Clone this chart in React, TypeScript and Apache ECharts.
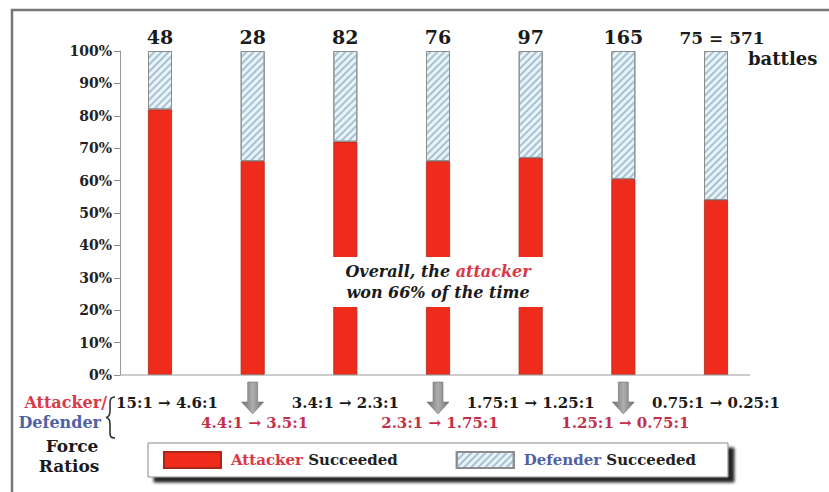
import React, { useEffect, useRef } from 'react';
import * as echarts from 'echarts';

const FONT = '"DejaVu Serif", Georgia, serif';

const categories = ['15:1 → 4.6:1', '4.4:1 → 3.5:1', '3.4:1 → 2.3:1', '2.3:1 → 1.75:1', '1.75:1 → 1.25:1', '1.25:1 → 0.75:1', '0.75:1 → 0.25:1'];
const battleCounts = [48, 28, 82, 76, 97, 165, 75];
const totalBattles = 571;
const attackerPct = [82, 66, 72, 66, 67, 60.5, 54];
const defenderPct = [18, 34, 28, 34, 33, 39.5, 46];
const sideLabels = ['Attacker/', 'Defender', 'Force', 'Ratios'];

echarts.graphic.registerShape(
  'brace',
  echarts.graphic.extendPath(
    'M115,397 C110,397 110,400 110,405 L110,411 C110,415 109,417 106,417.5 C109,418 110,420 110,424 L110,432 C110,436 110,438 115,438',
    {}
  )
);

const RED = '#ef2b1b';
const TXT_RED = '#d8394a';
const TXT_BLUE = '#5062a6';

export default function App() {
  const ref = useRef<HTMLDivElement>(null);
  useEffect(() => {
    const chart = echarts.init(ref.current!, null, { renderer: 'svg' });
    const hatch = {
      symbol: 'rect',
      symbolSize: 1,
      color: '#a5c3d3',
      dashArrayX: [1, 0],
      dashArrayY: [1.5, 3],
      rotation: -Math.PI / 4,
    };
    const band = 92.67;
    const gridLeft = 160 - band / 2;
    chart.setOption({
      animation: false,
      backgroundColor: '#ffffff',
      grid: { left: gridLeft, width: band * 7, top: 51, bottom: 117 },
      xAxis: {
        type: 'category',
        data: categories,
        axisLine: { show: false },
        axisTick: { show: false },
        axisLabel: { show: false },
        splitLine: { show: false },
      },
      yAxis: {
        type: 'value',
        min: 0,
        max: 100,
        interval: 10,
        offset: gridLeft - 120,
        axisLine: { show: true, onZero: false, lineStyle: { color: '#9a9a9a', width: 1 } },
        axisTick: { show: true, length: 6, lineStyle: { color: '#8a8a8a' } },
        axisLabel: {
          formatter: '{value}%',
          margin: 8,
          fontFamily: FONT,
          fontWeight: 'bold',
          fontSize: 14,
          color: '#222',
        },
        splitLine: { show: false },
      },
      legend: {
        left: 148,
        top: 443,
        data: ['Attacker', 'Defender'],
        icon: 'rect',
        itemWidth: 57,
        itemHeight: 16,
        itemGap: 58,
        padding: [8, 32, 8, 15],
        backgroundColor: '#ffffff',
        borderColor: '#888',
        borderWidth: 1,
        shadowColor: 'rgba(0,0,0,0.85)',
        shadowBlur: 3,
        shadowOffsetX: 6,
        shadowOffsetY: 5,
        selectedMode: false,
        formatter: (name: string) =>
          name === 'Attacker' ? '{a|Attacker} {b|Succeeded}' : '{d|Defender} {b|Succeeded}',
        textStyle: {
          fontFamily: FONT,
          fontWeight: 'bold',
          fontSize: 15,
          color: '#222',
          padding: [0, 0, 0, 5],
          rich: {
            a: { fontFamily: FONT, fontWeight: 'bold', fontSize: 15, color: TXT_RED },
            d: { fontFamily: FONT, fontWeight: 'bold', fontSize: 15, color: TXT_BLUE },
            b: { fontFamily: FONT, fontWeight: 'bold', fontSize: 15, color: '#222' },
          },
        },
      },
      series: [
        {
          name: 'Attacker',
          type: 'bar',
          stack: 'a',
          barWidth: 24,
          data: attackerPct,
          itemStyle: { color: RED, borderColor: '#a8281a', borderWidth: 0.8 },
        },
        {
          name: 'Defender',
          type: 'bar',
          stack: 'a',
          barWidth: 24,
          data: defenderPct.map((v, i) =>
            i === battleCounts.length - 1
              ? { value: v, label: { offset: [6, 0], fontSize: 17 } }
              : v
          ),
          itemStyle: { color: '#eaf4f8', borderColor: '#8c8c8c', borderWidth: 1, decal: hatch },
          label: {
            show: true,
            position: 'top',
            distance: 5,
            formatter: (p: any) =>
              p.dataIndex === battleCounts.length - 1
                ? `${battleCounts[p.dataIndex]} = ${totalBattles}`
                : String(battleCounts[p.dataIndex]),
            fontFamily: FONT,
            fontWeight: 'bold',
            fontSize: 19,
            color: '#1a1a1a',
          },
        },
      ],
    });

    const px = (i: number) => chart.convertToPixel({ xAxisIndex: 0 }, categories[i]) as number;
    const py = (v: number) => chart.convertToPixel({ yAxisIndex: 0 }, v) as number;
    const txt = (text: string, x: number, y: number, size: number, fill: string, align = 'center', weight = 'bold', style = 'normal') => ({
      type: 'text',
      x,
      y,
      silent: true,
      z: 20,
      style: {
        text,
        fill,
        font: `${style} ${weight} ${size}px ${FONT}`,
        textAlign: align,
        verticalAlign: 'middle',
        textVerticalAlign: 'middle',
      },
    });
    const arrow = (cx: number) => ({
      type: 'polygon',
      silent: true,
      z: 20,
      shape: {
        points: [
          [cx - 5, 382], [cx + 5, 382], [cx + 5, 402], [cx + 11, 402],
          [cx, 414], [cx - 11, 402], [cx - 5, 402],
        ],
      },
      style: {
        fill: new echarts.graphic.LinearGradient(0, 0, 1, 0, [
          { offset: 0, color: '#6f6f6f' },
          { offset: 0.5, color: '#aeaeae' },
          { offset: 1, color: '#707070' },
        ]),
        stroke: '#666',
        lineWidth: 0.5,
      },
    });

    const base = py(0);
    const gapTop = py(36.4);
    const gapBottom = py(21);
    const elements: any[] = [
      {
        type: 'rect',
        silent: true,
        z: 30,
        shape: { x: 12, y: 10, width: 840, height: 500 },
        style: { fill: 'none', stroke: '#777', lineWidth: 2.5 },
      },
      {
        type: 'line',
        silent: true,
        z: 5,
        shape: { x1: 120, y1: base, x2: 750, y2: base },
        style: { stroke: '#9a9a9a', lineWidth: 1 },
      },
      {
        type: 'rect',
        silent: true,
        z: 15,
        shape: { x: px(2) - 16, y: gapTop, width: px(4) - px(2) + 32, height: gapBottom - gapTop },
        style: { fill: '#ffffff' },
      },
      {
        type: 'text',
        x: px(3),
        y: 271,
        silent: true,
        z: 20,
        style: {
          text: 'Overall, the {r|attacker}',
          fill: '#1a1a1a',
          font: `italic bold 16px ${FONT}`,
          textAlign: 'center',
          verticalAlign: 'middle',
          rich: { r: { fill: TXT_RED, font: `italic bold 16px ${FONT}` } },
        },
      },
      txt('won 66% of the time', px(3), 292, 16, '#1a1a1a', 'center', 'bold', 'italic'),
      txt('battles', 748, 58, 18, '#1a1a1a', 'left'),
      txt(sideLabels[0], 107, 402, 16, TXT_RED, 'right'),
      txt(sideLabels[1], 101, 422, 16, TXT_BLUE, 'right'),
      txt(sideLabels[2], 72, 446, 17, '#1a1a1a', 'center'),
      txt(sideLabels[3], 69, 466, 17, '#1a1a1a', 'center'),
      {
        type: 'brace',
        silent: true,
        z: 20,
        style: { fill: 'none', stroke: '#333', lineWidth: 1.6 },
      },
    ];
    categories.forEach((c, i) => {
      const cx = px(i);
      if (i % 2 === 0) {
        elements.push(txt(c, cx + (i === 0 ? 7 : 0), 403, 15, '#1a1a1a'));
      } else {
        elements.push(txt(c, cx + 2, 423, 15, '#c4304a'));
        elements.push(arrow(cx));
      }
    });
    chart.setOption({ graphic: elements });
    return () => chart.dispose();
  }, []);
  return (
    <div
      ref={ref}
      style={{ position: 'absolute', left: 0, top: 0, width: 829, height: 492, background: '#fff' }}
    />
  );
}
